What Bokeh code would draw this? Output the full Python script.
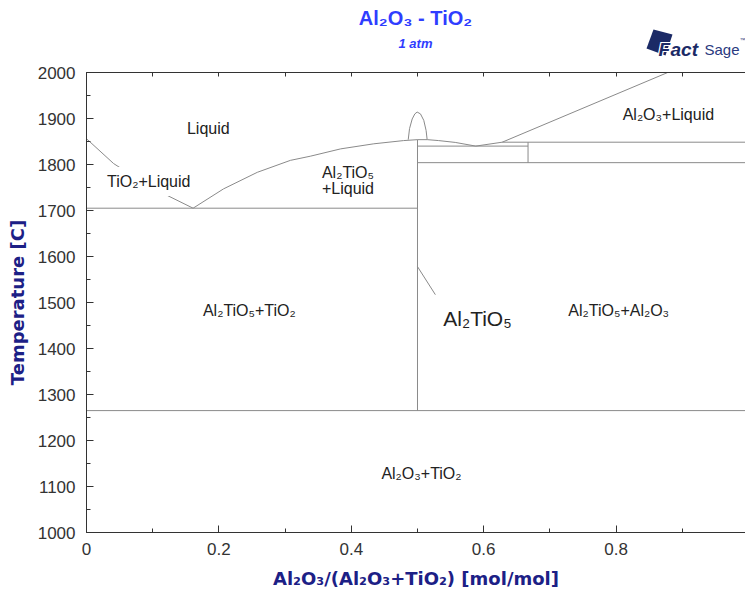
from bokeh.plotting import figure
from bokeh.layouts import column
from bokeh.models import (Range1d, LinearAxis, FixedTicker, SingleIntervalTicker,
                          Label, CustomJSTickFormatter)
from bokeh.core.properties import value
from bokeh.embed import file_html
from bokeh.resources import INLINE

# ---------------- data ----------------
# TiO2 liquidus
liq_tio2_x = [0.0, 0.041, 0.079, 0.116, 0.161]
liq_tio2_T = [1856, 1802, 1767, 1737, 1705]
# Al2TiO5 liquidus, TiO2-rich side
liq_at_left_x = [0.161, 0.207, 0.258, 0.308, 0.338, 0.384, 0.434, 0.479, 0.5]
liq_at_left_T = [1705, 1747, 1783, 1809, 1818, 1834, 1845, 1852, 1854]
# Al2TiO5 liquidus, Al2O3-rich side
liq_at_right_x = [0.5, 0.515, 0.532, 0.557, 0.588]
liq_at_right_T = [1854, 1854, 1852, 1848, 1840]
# Al2O3 liquidus
liq_al2o3_x = [0.588, 0.628, 0.878]
liq_al2o3_T = [1840, 1848.5, 2000]
# small dome above Al2TiO5
dome_x = [0.486, 0.488, 0.492, 0.496, 0.4995, 0.5045, 0.5095, 0.513, 0.5146]
dome_T = [1854, 1878, 1899, 1910, 1914, 1910, 1896, 1874, 1854]
# isotherms
iso_x0 = [0.0, 0.0, 0.5, 0.628, 0.5]
iso_x1 = [0.5, 1.0, 0.667, 1.0, 1.0]
iso_T = [1705, 1265, 1840, 1848.5, 1804]
# vertical lines (compounds)
vert_x = [0.5, 0.667]
vert_T0 = [1265, 1804]
vert_T1 = [1854, 1848.5]
# pointer for the Al2TiO5 label
pointer_x = [0.5, 0.527]
pointer_T = [1578, 1517]

# phase-field labels
label_text = ["Liquid", "Al₂TiO₅", "+Liquid", "Al₂O₃+Liquid",
              "Al₂TiO₅+TiO₂", "Al₂TiO₅+Al₂O₃", "Al₂O₃+TiO₂"]
label_x = [0.184, 0.395, 0.395, 0.879, 0.246, 0.804, 0.506]
label_T = [1878, 1783, 1748, 1909, 1483, 1483, 1128]

xtick_values = [0, 0.2, 0.4, 0.6, 0.8]
xtick_labels = ["0", "0.2", "0.4", "0.6", "0.8"]

LINE = "#8a8a8a"
NAVY = "#1c2086"
BLUE = "#2f3dff"
LOGO = "#1b2a66"
TXT = "#222222"
FONT = "Liberation Sans"
HEADER_H = 61
FRAME_L = 86

# ---------------- header (title, subtitle, logo) ----------------
# its frame is aligned with the diagram frame by the column layout
h = figure(width=745, height=HEADER_H, x_range=Range1d(FRAME_L, 745),
           y_range=Range1d(HEADER_H, 0),
           output_backend="svg", toolbar_location=None,
           x_axis_location=None, y_axis_location=None,
           min_border_left=FRAME_L, min_border_right=0, min_border_top=0, min_border_bottom=0)
h.outline_line_color = None
h.grid.visible = False
h.text(x=[415], y=[17], text=["Al₂O₃ - TiO₂"], text_align="center", text_baseline="middle",
       text_font=value(FONT), text_font_style="bold", text_font_size="20px", text_color=BLUE)
h.text(x=[415], y=[43], text=["1 atm"], text_align="center", text_baseline="middle",
       text_font=value(FONT), text_font_style="bold italic", text_font_size="13px",
       text_color=BLUE)
h.patch(x=[653, 672, 665, 646], y=[29, 34, 55, 48], fill_color=LOGO, line_color=None)
h.text(x=[657, 659, 657, 659], y=[48, 48, 50, 50], text=["F"] * 4,
       text_align="left", text_baseline="alphabetic", text_font=value(FONT),
       text_font_style="bold italic", text_font_size="19px", text_color="white")
h.text(x=[658], y=[49], text=["F"], text_align="left", text_baseline="alphabetic",
       text_font=value(FONT), text_font_style="bold italic", text_font_size="19px",
       text_color=LOGO)
h.text(x=[670], y=[49], text=["act"], text_align="left", text_baseline="alphabetic",
       text_font=value(FONT), text_font_style="bold italic", text_font_size="19px",
       text_color=LOGO)
h.text(x=[704], y=[49], text=["Sage"], text_align="left", text_baseline="alphabetic",
       text_font=value(FONT), text_font_size="15px", text_color="#2a3a80")
h.text(x=[739], y=[39], text=["™"], text_align="left", text_baseline="alphabetic",
       text_font=value(FONT), text_font_size="6px", text_color="#2a3a80")

# ---------------- main diagram ----------------
p = figure(width=745, height=592 - HEADER_H, x_range=Range1d(0, 0.9955),
           y_range=Range1d(1000, 2000),
           output_backend="svg", toolbar_location=None,
           min_border_left=FRAME_L, min_border_right=0, min_border_top=72 - HEADER_H,
           min_border_bottom=60,
           x_axis_label="Al₂O₃/(Al₂O₃+TiO₂) [mol/mol]", y_axis_label="Temperature [C]")
p.outline_line_color = None
p.grid.visible = False

xa = p.xaxis[0]
xa.ticker = FixedTicker(ticks=xtick_values, minor_ticks=[0.1, 0.3, 0.5, 0.7, 0.9])
xa.major_label_overrides = {v: l for v, l in zip(xtick_values, xtick_labels)}
ya = p.yaxis[0]
ya.ticker = SingleIntervalTicker(interval=100, num_minor_ticks=2)

for ax in (xa, ya):
    ax.major_tick_in = 7
    ax.major_tick_out = 0
    ax.minor_tick_in = 4
    ax.minor_tick_out = 0
    ax.axis_line_color = "#333333"
    ax.major_tick_line_color = "#333333"
    ax.minor_tick_line_color = "#333333"
    ax.major_label_text_font = FONT
    ax.major_label_text_font_size = "17px"
    ax.major_label_text_color = "#333333"
    ax.axis_label_text_font = "DejaVu Sans"
    ax.axis_label_text_font_style = "bold"
    ax.axis_label_text_font_size = "18px"
    ax.axis_label_text_color = NAVY
xa.major_label_standoff = 10
xa.axis_label_standoff = 10
ya.major_label_standoff = 11
ya.axis_label_standoff = 7

top = LinearAxis(ticker=SingleIntervalTicker(interval=0.1, num_minor_ticks=0),
                 formatter=CustomJSTickFormatter(code="return ''"),
                 major_tick_in=4, major_tick_out=0, minor_tick_in=0, minor_tick_out=0,
                 major_label_standoff=0,
                 axis_line_color="#333333", major_tick_line_color="#333333")
p.add_layout(top, "above")

for xs, ts in [(liq_tio2_x, liq_tio2_T), (liq_at_left_x, liq_at_left_T),
               (liq_at_right_x, liq_at_right_T), (liq_al2o3_x, liq_al2o3_T),
               (dome_x, dome_T), (pointer_x, pointer_T)]:
    p.line(xs, ts, line_color=LINE, line_width=1)
p.segment(x0=iso_x0, y0=iso_T, x1=iso_x1, y1=iso_T, line_color=LINE, line_width=1)
p.segment(x0=vert_x, y0=vert_T0, x1=vert_x, y1=vert_T1, line_color=LINE, line_width=1)

for t, x, y in zip(label_text, label_x, label_T):
    p.add_layout(Label(x=x, y=y, text=t, text_align="center", text_baseline="middle",
                       text_font=FONT, text_font_size="16px", text_color=TXT))
p.add_layout(Label(x=0.094, y=1763, text="TiO₂+Liquid", text_align="center",
                   text_baseline="middle", text_font=FONT, text_font_size="16px",
                   text_color=TXT, background_fill_color="white", padding=6))
p.add_layout(Label(x=0.539, y=1465, text="Al₂TiO₅", text_align="left",
                   text_baseline="middle", text_font=FONT, text_font_size="21px",
                   text_color=TXT))

open("out.html", "w").write(file_html(column(h, p), INLINE))
